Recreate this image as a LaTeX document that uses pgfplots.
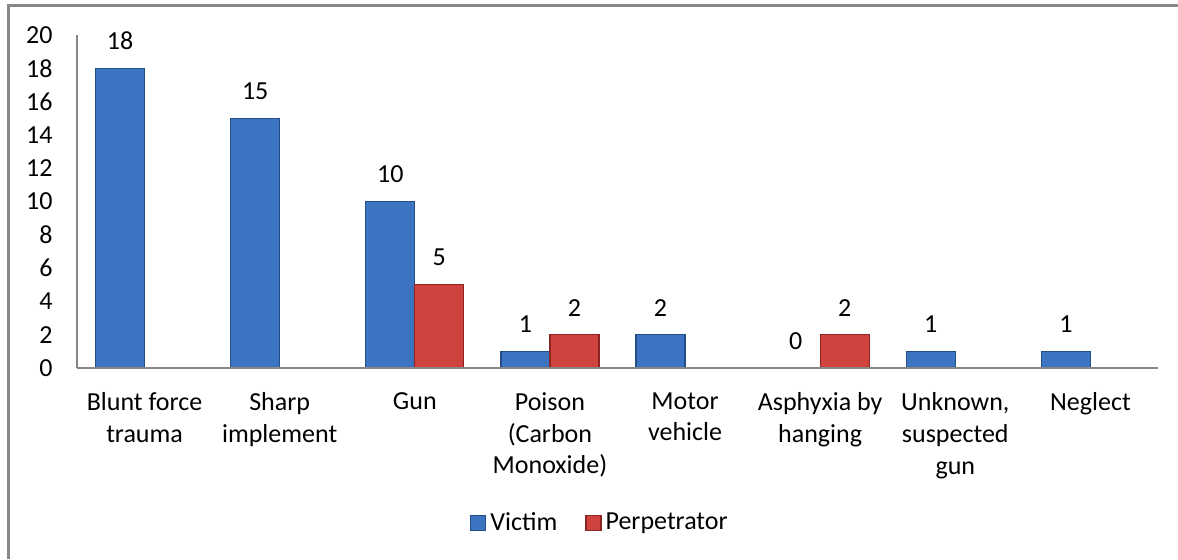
\documentclass[border=0pt]{standalone}
\usepackage{pgfplots}
\pgfplotsset{compat=1.18}
\usepackage{fontspec}
\setmainfont{Carlito}
\definecolor{vicF}{RGB}{60,116,194}
\definecolor{vicD}{RGB}{36,78,136}
\definecolor{perF}{RGB}{208,66,62}
\definecolor{perD}{RGB}{140,36,36}
\definecolor{framegray}{RGB}{136,136,136}
\definecolor{axisgray}{RGB}{134,134,134}
\begin{document}
\fontsize{13}{15.9}\selectfont
\begin{tikzpicture}
\useasboundingbox (0pt,0pt) rectangle (589pt,279.5pt);
\fill[white] (0pt,0pt) rectangle (589pt,279.5pt);
\draw[framegray, line width=1.5pt] (4.25pt,0pt) -- (4.25pt,276.75pt) -- (589pt,276.75pt);
\begin{axis}[
  at={(38.5pt,95.5pt)}, anchor=south west,
  scale only axis, width=540.5pt, height=166.5pt,
  xmin=-0.5, xmax=7.5, ymin=0, ymax=20,
  ytick={0,2,...,20},
  xtick={0,...,7},
  xticklabels={{Blunt force\\trauma},{Sharp\\implement},{Gun},{Poison\\(Carbon\\Monoxide)},{Motor\\vehicle},{Asphyxia by\\hanging},{Unknown,\\suspected\\gun},{Neglect}},
  axis x line*=bottom, axis y line*=left,
  axis line style={draw=axisgray, line width=0.6pt, -},
  axis on top,
  major tick length=0pt, tick style={draw=none},
  ybar=0pt, bar width=24.5pt,
  nodes near coords,
  every node near coord/.append style={anchor=south, inner sep=0pt, yshift=9pt, font=\fontsize{13}{15.9}\selectfont, text=black},
  /pgf/number format/assume math mode=true,
  ticklabel style={font=\fontsize{13}{15.9}\selectfont, text=black},
  yticklabel style={anchor=east, inner sep=0pt, xshift=-12pt},
  xticklabel style={anchor=north, inner sep=0pt, yshift=-12pt, align=center},
  legend style={at={(0.4847,-0.4655)}, anchor=center, draw=none, fill=none, legend columns=2,
    font=\fontsize{13}{15.9}\selectfont,
    /tikz/every even column/.append style={column sep=12pt}},
  legend image code/.code={\draw[#1] (0pt,-3.75pt) rectangle (7.5pt,3.75pt);},
]
\addplot[draw=vicD, line width=0.6pt, fill=vicF] coordinates {(0,18) (1,15) (2,10) (3,1) (4,2) (5,0) (6,1) (7,1)};
\addplot[draw=perD, line width=0.6pt, fill=perF] coordinates {(2,5) (3,2) (5,2)};
\legend{Victim, Perpetrator}
\end{axis}
\end{tikzpicture}
\end{document}
